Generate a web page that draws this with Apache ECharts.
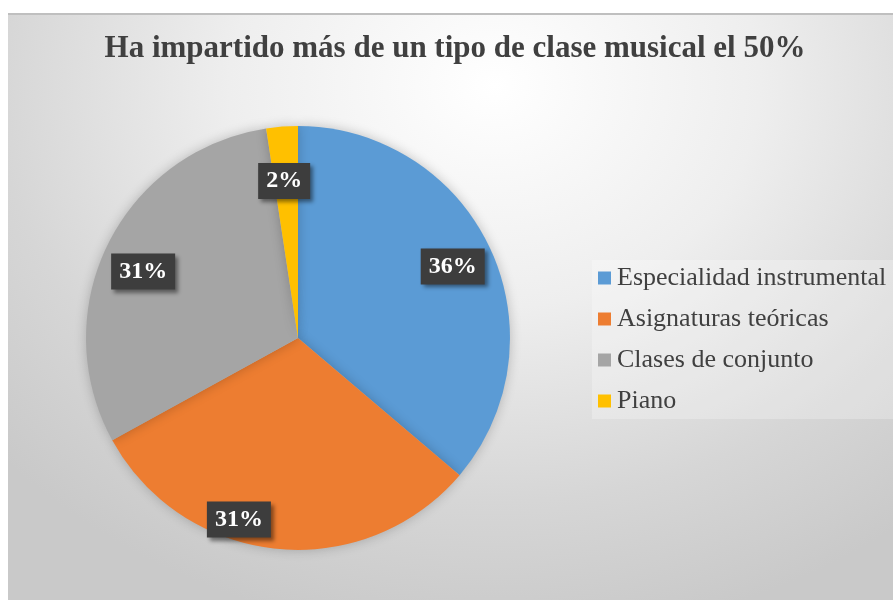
<!DOCTYPE html>
<html>
<head>
<meta charset="utf-8">
<script src="https://cdn.jsdelivr.net/npm/echarts@6/dist/echarts.min.js"></script>
<style>
  html, body { margin: 0; padding: 0; background: #ffffff; }
  #chart {
    position: absolute;
    left: 8px;
    top: 13px;
    width: 885px;
    height: 587px;
    border-top: 2px solid #bfbfbf;
    box-sizing: border-box;
    background: radial-gradient(ellipse 75% 95% at 55% 12%, #ffffff 0%, #eeeeee 40%, #d6d6d6 75%, #c9c9c9 100%);
  }
</style>
</head>
<body>
<div id="chart"></div>
<script>
const titleText = 'Ha impartido más de un tipo de clase musical el 50%'
const categories = ['Especialidad instrumental', 'Asignaturas teóricas', 'Clases de conjunto', 'Piano']
const values = [36.2, 30.8, 30.6, 2.4]
const colors = ['#5B9BD5', '#ED7D31', '#A5A5A5', '#FFC000']

const serif = '"Liberation Serif", "Times New Roman", serif'
const chart = echarts.init(document.getElementById('chart'))

const R = 212
const center = [290, 323]
// small nudges so the boxes sit where the original put them
const labelOffsets = [[0, 0], [-42, 12], [-2, 9], [-1, 13]]

chart.setOption({
  animation: false,
  color: colors,
  title: {
    text: titleText,
    left: 447,
    top: 18,
    textAlign: 'center',
    padding: 0,
    textStyle: { fontFamily: serif, fontSize: 31, fontWeight: 'bold', color: '#404040' }
  },
  legend: {
    orient: 'vertical',
    left: 584,
    top: 245,
    icon: 'rect',
    itemWidth: 13,
    itemHeight: 13,
    itemGap: 15,
    padding: [5, 8, 5, 6],
    backgroundColor: 'rgba(255,255,255,0.25)',
    data: categories,
    textStyle: { fontFamily: serif, fontSize: 26, lineHeight: 26, color: '#404040', padding: [0, 0, 0, 1] }
  },
  series: [
    {
      type: 'pie',
      center: center,
      radius: [0, R],
      startAngle: 90,
      clockwise: true,
      silent: true,
      label: { show: false },
      labelLine: { show: false },
      itemStyle: { borderWidth: 0, shadowBlur: 12, shadowColor: 'rgba(0,0,0,0.22)' },
      data: categories.map((name, i) => ({ name: name, value: values[i] }))
    },
    {
      // transparent ring used only to place the labels at ~0.79 of the radius
      type: 'pie',
      center: center,
      radius: [R * 0.58, R],
      startAngle: 90,
      clockwise: true,
      silent: true,
      itemStyle: { color: 'rgba(0,0,0,0)', borderWidth: 0 },
      labelLine: { show: false },
      label: {
        show: true,
        position: 'inside',
        formatter: p => Math.round(p.percent) + '%',
        fontFamily: serif,
        fontSize: 24,
        fontWeight: 'bold',
        color: '#ffffff',
        backgroundColor: '#3d3d3d',
        padding: [7, 8, 5, 8],
        shadowBlur: 4,
        shadowOffsetX: 3,
        shadowOffsetY: 3,
        shadowColor: 'rgba(0,0,0,0.45)'
      },
      data: categories.map((name, i) => ({
        name: name,
        value: values[i],
        label: { offset: labelOffsets[i] }
      }))
    }
  ]
})
</script>
</body>
</html>
